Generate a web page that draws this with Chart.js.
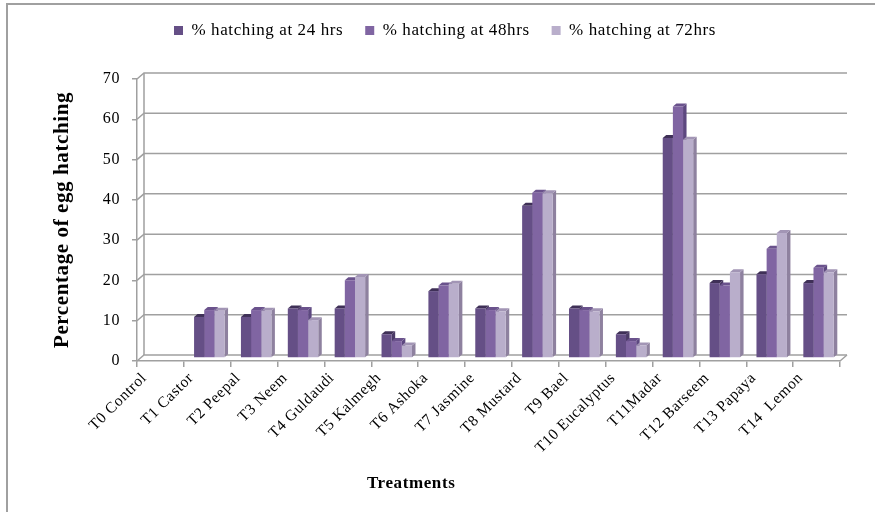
<!DOCTYPE html>
<html>
<head>
<meta charset="utf-8">
<script src="https://cdn.jsdelivr.net/npm/chart.js@4.4.1/dist/chart.umd.min.js"></script>
<style>
  html, body { margin: 0; padding: 0; background: #fff; }
  #wrap { width: 875px; height: 512px; }
</style>
</head>
<body>
<div id="wrap"><canvas id="hatch"></canvas></div>
<script>
// ── data ──
const treatments = ['T0 Control', 'T1 Castor', 'T2 Peepal', 'T3 Neem', 'T4 Guldaudi', 'T5 Kalmegh',
  'T6 Ashoka', 'T7 Jasmine', 'T8 Mustard', 'T9 Bael', 'T10 Eucalyptus', 'T11Madar',
  'T12 Barseem', 'T13 Papaya', 'T14  Lemon'];
const hatch24 = [0, 10.2, 10.2, 12.3, 12.3, 5.9, 16.6, 12.3, 37.8, 12.3, 5.9, 54.6, 18.6, 20.8, 18.6];
const hatch48 = [0, 11.9, 11.9, 11.9, 19.3, 4.2, 18.0, 11.9, 41.0, 11.9, 4.2, 62.4, 18.0, 27.1, 22.4];
const hatch72 = [0, 11.7, 11.7, 9.4, 20.1, 3.1, 18.4, 11.6, 40.9, 11.6, 3.1, 54.2, 21.3, 31.0, 21.3];
const seriesNames = ['% hatching at 24 hrs', '% hatching at 48hrs', '% hatching at 72hrs'];
const yTicks = [0, 10, 20, 30, 40, 50, 60, 70];

// front / side / top shades per series
const frontCol = ['#654f86', '#8065a2', '#b9aecb'];
const sideCol  = ['#4b3a66', '#5d4880', '#8e819f'];
const topCol   = ['#3f3057', '#6a528c', '#a295b5'];

const SERIF = '"Liberation Serif", "Times New Roman", serif';
const GRID = '#a0a0a0';

// fake-3D offsets (px)
const wallOff = { x: 7, y: -6 };   // back wall relative to front axis
const barOff  = { x: 2, y: -3 };   // bars sit mid-depth
const depth   = { x: 3.5, y: -3 }; // bar side/top faces

function poly(ctx, pts) {
  ctx.beginPath();
  ctx.moveTo(pts[0][0], pts[0][1]);
  pts.slice(1).forEach(p => ctx.lineTo(p[0], p[1]));
  ctx.closePath();
  ctx.fill();
}

// text in this chart is set a touch loose
const spacing = {
  id: 'spacing',
  beforeLayout(chart) { chart.ctx.letterSpacing = '0.6px'; },
  beforeDraw(chart) { chart.ctx.letterSpacing = '0.6px'; },
};

// legend sits close under the frame, with a wide gap above the plot
const legendLift = {
  id: 'legendLift',
  afterLayout(chart) {
    const lg = chart.legend;
    if (!lg) return;
    lg.top -= 30;
    lg.bottom -= 30;
  },
};

// outer frame + x axis title (set left of centre)
const frame = {
  id: 'frame',
  beforeDraw(chart) {
    const ctx = chart.ctx;
    ctx.save();
    ctx.strokeStyle = GRID;
    ctx.lineWidth = 2;
    ctx.beginPath();
    ctx.moveTo(875, 4); ctx.lineTo(7, 4); ctx.lineTo(7, 512);
    ctx.stroke();
    ctx.restore();
  },
  afterDraw(chart) {
    const { ctx, chartArea: a } = chart;
    ctx.save();
    ctx.font = 'bold 17px ' + SERIF;
    ctx.fillStyle = '#000';
    ctx.textAlign = 'center';
    ctx.textBaseline = 'middle';
    ctx.fillText('Treatments', a.left + (a.right - a.left) * 0.39, 484);
    ctx.restore();
  },
};

// back wall gridlines, floor, and the side/top faces of every bar
const box3d = {
  id: 'box3d',
  beforeDatasetsDraw(chart) {
    const { ctx, chartArea: a, scales: { y } } = chart;
    ctx.save();
    ctx.strokeStyle = GRID;
    ctx.lineWidth = 1.5;
    yTicks.forEach(v => {
      const py = y.getPixelForValue(v);
      ctx.beginPath();
      ctx.moveTo(a.left, py);
      ctx.lineTo(a.left + wallOff.x, py + wallOff.y);
      ctx.lineTo(a.right + wallOff.x, py + wallOff.y);
      ctx.stroke();
    });
    // back wall edge + right edge of floor
    const y0 = y.getPixelForValue(0), yTop = y.getPixelForValue(yTicks[yTicks.length - 1]);
    ctx.beginPath();
    ctx.moveTo(a.left + wallOff.x, yTop + wallOff.y);
    ctx.lineTo(a.left + wallOff.x, y0 + wallOff.y);
    ctx.moveTo(a.right, y0);
    ctx.lineTo(a.right + wallOff.x, y0 + wallOff.y);
    ctx.stroke();
    ctx.restore();

    ctx.save();
    ctx.translate(barOff.x, barOff.y);
    treatments.forEach((_, i) => {
      chart.data.datasets.forEach((ds, d) => {
        if (!ds.data[i]) return;
        const bar = chart.getDatasetMeta(d).data[i];
        const { x, y: top, base, width } = bar.getProps(['x', 'y', 'base', 'width'], true);
        const l = x - width / 2, r = x + width / 2;
        ctx.fillStyle = sideCol[d];
        poly(ctx, [[r, top], [r + depth.x, top + depth.y], [r + depth.x, base + depth.y], [r, base]]);
        ctx.fillStyle = topCol[d];
        poly(ctx, [[l, top], [l + depth.x, top + depth.y], [r + depth.x, top + depth.y], [r, top]]);
      });
    });
    ctx.restore();

    // front faces drawn by Chart.js get the same shift
    ctx.save();
    ctx.translate(barOff.x, barOff.y);
  },
  afterDatasetsDraw(chart) {
    chart.ctx.restore();
  },
};

const series = [hatch24, hatch48, hatch72];

new Chart(document.getElementById('hatch'), {
  type: 'bar',
  data: {
    labels: treatments,
    datasets: series.map((vals, d) => ({
      label: seriesNames[d],
      data: vals,
      backgroundColor: frontCol[d],
      borderWidth: 0,
      categoryPercentage: 0.65,
      barPercentage: 1.0,
    })),
  },
  options: {
    responsive: true,
    maintainAspectRatio: false,
    animation: false,
    layout: { padding: { left: 50, right: 35, top: 30, bottom: 0 } },
    plugins: {
      legend: {
        position: 'top',
        labels: {
          font: { family: SERIF, size: 17 },
          color: '#000',
          boxWidth: 9, boxHeight: 9,
          padding: 22,
        },
      },
      tooltip: { enabled: false },
    },
    scales: {
      x: {
        grid: { drawOnChartArea: false, tickLength: 6, color: GRID, lineWidth: 1.5 },
        border: { color: GRID, width: 1.5 },
        ticks: {
          autoSkip: false, minRotation: 45, maxRotation: 45, padding: 2, labelOffset: -16,
          font: { family: SERIF, size: 15.5 }, color: '#000',
        },
        afterFit(scale) { scale.height = 151; },
      },
      y: {
        min: 0, max: 70,
        afterBuildTicks(scale) { scale.ticks = yTicks.map(v => ({ value: v })); },
        grid: { drawOnChartArea: false, tickLength: 5, color: GRID, lineWidth: 1.5 },
        border: { color: GRID, width: 1.5 },
        ticks: { padding: 12, font: { family: SERIF, size: 16 }, color: '#000' },
        title: {
          display: true, text: 'Percentage of egg hatching', color: '#000',
          font: { family: SERIF, size: 21, weight: 'bold' },
          padding: { top: 0, bottom: 0 },
        },
        afterFit(scale) { scale.width = 87; },
      },
    },
  },
  plugins: [spacing, legendLift, frame, box3d],
});
</script>
</body>
</html>
